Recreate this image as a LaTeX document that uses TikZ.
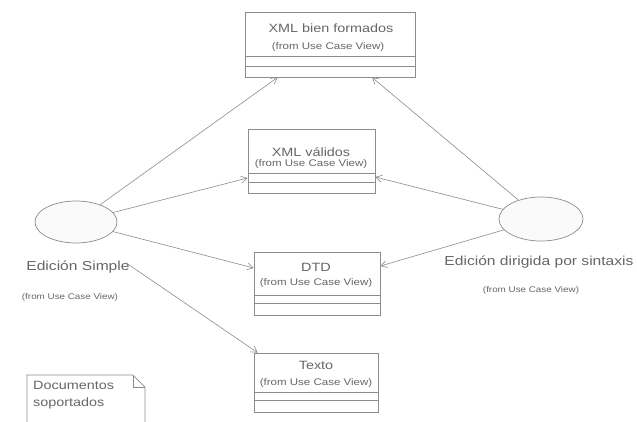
\documentclass[tikz,border=0pt]{standalone}
\usepackage{fontspec}
\setmainfont{Liberation Sans}
\usetikzlibrary{arrows.meta,shapes.geometric,calc}
\definecolor{ln}{gray}{0.55}
\definecolor{tx}{gray}{0.4}
\newcommand{\wide}[1]{\scalebox{1.2}[1]{#1}}
\tikzset{
  cls/.style={draw=ln, line width=0.7pt, fill=white, rectangle, inner sep=0pt},
  uc/.style={draw=ln, line width=0.7pt, fill=gray!4, ellipse, inner sep=0pt},
  ttl/.style={text=tx, inner sep=0pt, font=\fontsize{12}{14}\selectfont},
  frm/.style={text=tx, inner sep=0pt, font=\fontsize{9.6}{11}\selectfont},
  lbl/.style={text=tx, inner sep=0pt, font=\fontsize{13}{15}\selectfont},
  frmout/.style={text=tx, inner sep=0pt, font=\fontsize{8.2}{10}\selectfont},
  sep/.style={draw=ln, line width=0.6pt},
  assoc/.style={draw=ln, line width=0.6pt, -{Straight Barb[length=6pt,width=7pt]}}
}
\begin{document}
\begin{tikzpicture}[x=1pt,y=-1pt]
\useasboundingbox (0,0) rectangle (637,421);
\clip (0,0) rectangle (637,421);
\fill[white] (0,0) rectangle (637,421);

% classes
\node[cls, minimum width=170pt, minimum height=65pt] (b1) at (330,44.5) {};
\node[ttl] (t1) at (331,28) {\wide{XML bien formados}};
\node[frm] (f1) at (328,47) {\wide{(from Use Case View)}};
\draw[sep] (b1.west |- 0,56) -- (b1.east |- 0,56);
\draw[sep] (b1.west |- 0,66) -- (b1.east |- 0,66);

\node[cls, minimum width=127pt, minimum height=64pt] (b2) at (311.5,161) {};
\node[ttl] (t2) at (311,152) {\wide{XML válidos}};
\node[frm] (f2) at (311,164) {\wide{(from Use Case View)}};
\draw[sep] (b2.west |- 0,173) -- (b2.east |- 0,173);
\draw[sep] (b2.west |- 0,182) -- (b2.east |- 0,182);

\node[cls, minimum width=126pt, minimum height=63pt] (b3) at (317,283.5) {};
\node[ttl] (t3) at (316,267) {\wide{DTD}};
\node[frm] (f3) at (316,283) {\wide{(from Use Case View)}};
\draw[sep] (b3.west |- 0,295) -- (b3.east |- 0,295);
\draw[sep] (b3.west |- 0,303) -- (b3.east |- 0,303);

\node[cls, minimum width=124pt, minimum height=59pt] (b4) at (316,382.5) {};
\node[ttl] (t4) at (316,365) {\wide{Texto}};
\node[frm] (f4) at (316,383) {\wide{(from Use Case View)}};
\draw[sep] (b4.west |- 0,392) -- (b4.east |- 0,392);
\draw[sep] (b4.west |- 0,400) -- (b4.east |- 0,400);

% use cases
\node[uc, minimum width=82pt, minimum height=42pt] (es) at (76,222) {};
\node[lbl] (les) at (78,267) {\wide{Edición Simple}};
\node[frmout] (fes) at (70,297) {\wide{(from Use Case View)}};

\node[uc, minimum width=84pt, minimum height=44pt] (er) at (541,219) {};
\node[lbl] (ler) at (539,262) {\wide{Edición dirigida por sintaxis}};
\node[frmout] (fer) at (531,290) {\wide{(from Use Case View)}};

% associations
\draw[assoc] (es) -- ([xshift=33pt]b1.south west);
\draw[assoc] (es) -- (b2.west |- 0,178);
\draw[assoc] (es) -- (b3.west |- 0,268);
\draw[assoc] ([xshift=-4pt,yshift=-2pt]les.north east) -- ([xshift=4pt]b4.north west);
\draw[assoc] (er) -- (b1.south -| 372,0);
\draw[assoc] (er) -- (b2.east |- 0,177);
\draw[assoc] (er) -- (b3.east |- 0,266);

% note
\draw[ln, line width=0.7pt] (27,430) -- (27,375) -- (133,375) -- (145,387) -- (145,430);
\draw[ln, line width=0.6pt] (133,375) -- (133,387) -- (145,387);
\node[lbl, anchor=west, font=\fontsize{12}{14}\selectfont] (n1) at (33,385) {\wide{Documentos}};
\node[lbl, anchor=west, font=\fontsize{12}{14}\selectfont] (n2) at (33,403) {\wide{soportados}};
\end{tikzpicture}
\end{document}
